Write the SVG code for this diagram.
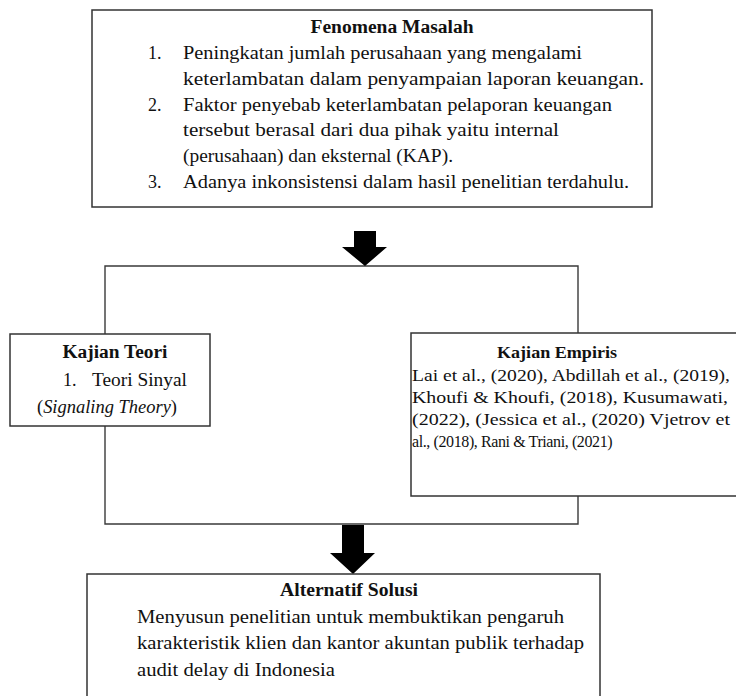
<svg xmlns="http://www.w3.org/2000/svg" width="736" height="696" viewBox="0 0 736 696">
<style>
.box{fill:#fff;stroke:#333;stroke-width:1.5}
.ln{fill:none;stroke:#3a3a3a;stroke-width:1.4}
.arr{fill:#000}
text{font-family:"Liberation Serif","DejaVu Serif",serif;fill:#111}
.b{font-weight:bold}
.t18{font-size:18px}
.t17{font-size:18px}
.t16{font-size:16.5px}
.t14{font-size:17px}
</style>
<rect x="0" y="0" width="736" height="696" fill="#fff"/>
<g id="connectors">
<polyline class="ln" points="105,334 105,266 578,266 578,333"/>
<polyline class="ln" points="105,426 105,524 578,524 578,496"/>
<polygon class="arr" points="354,231 376,231 376,247 387,247 365,266 342,247 354,247"/>
<polygon class="arr" points="342,525 364,525 364,553 375,553 353,574 330,553 342,553"/>
</g>
<g id="fenomena">
<rect class="box" x="92" y="10" width="560" height="197"/>
<text class="t18 b" x="392" y="33" text-anchor="middle" textLength="163" lengthAdjust="spacingAndGlyphs">Fenomena Masalah</text>
<text class="t18" x="148" y="59">1.</text>
<text class="t18" x="183" y="59" textLength="399" lengthAdjust="spacingAndGlyphs">Peningkatan jumlah perusahaan yang mengalami</text>
<text class="t18" x="183" y="85" textLength="461" lengthAdjust="spacingAndGlyphs">keterlambatan dalam penyampaian laporan keuangan.</text>
<text class="t18" x="148" y="111">2.</text>
<text class="t18" x="183" y="111" textLength="429" lengthAdjust="spacingAndGlyphs">Faktor penyebab keterlambatan pelaporan keuangan</text>
<text class="t18" x="183" y="136" textLength="376" lengthAdjust="spacingAndGlyphs">tersebut berasal dari dua pihak yaitu internal</text>
<text class="t18" x="183" y="162" textLength="270" lengthAdjust="spacingAndGlyphs">(perusahaan) dan eksternal (KAP).</text>
<text class="t18" x="148" y="188">3.</text>
<text class="t18" x="183" y="188" textLength="446" lengthAdjust="spacingAndGlyphs">Adanya inkonsistensi dalam hasil penelitian terdahulu.</text>
</g>
<g id="kajian-teori">
<rect class="box" x="10" y="334" width="200" height="92"/>
<text class="t17 b" x="115" y="358" text-anchor="middle" textLength="105" lengthAdjust="spacingAndGlyphs">Kajian Teori</text>
<text class="t17" x="63" y="386">1.</text>
<text class="t17" x="92" y="386" textLength="95" lengthAdjust="spacingAndGlyphs">Teori Sinyal</text>
<text class="t17" x="37" y="413" textLength="140" lengthAdjust="spacingAndGlyphs">(<tspan font-style="italic">Signaling Theory</tspan>)</text>
</g>
<g id="kajian-empiris">
<rect class="box" x="411" y="333" width="340" height="163"/>
<text class="t16 b" x="557" y="358" text-anchor="middle" textLength="120" lengthAdjust="spacingAndGlyphs">Kajian Empiris</text>
<text class="t14" x="412" y="381" textLength="318" lengthAdjust="spacingAndGlyphs">Lai et al., (2020), Abdillah et al., (2019),</text>
<text class="t14" x="412" y="403" textLength="316" lengthAdjust="spacingAndGlyphs">Khoufi &amp; Khoufi, (2018), Kusumawati,</text>
<text class="t14" x="412" y="425" textLength="318" lengthAdjust="spacingAndGlyphs">(2022), (Jessica et al., (2020) Vjetrov et</text>
<text x="412" y="447" font-size="16" letter-spacing="-0.4">al., (2018), Rani &amp; Triani, (2021)</text>
</g>
<g id="alternatif-solusi">
<rect class="box" x="87" y="574" width="513" height="130"/>
<text class="t18 b" x="349" y="596" text-anchor="middle" textLength="138" lengthAdjust="spacingAndGlyphs">Alternatif Solusi</text>
<text class="t18" x="137" y="623" textLength="427" lengthAdjust="spacingAndGlyphs">Menyusun penelitian untuk membuktikan pengaruh</text>
<text class="t18" x="137" y="649" textLength="447" lengthAdjust="spacingAndGlyphs">karakteristik klien dan kantor akuntan publik terhadap</text>
<text class="t18" x="137" y="676" textLength="198" lengthAdjust="spacingAndGlyphs">audit delay di Indonesia</text>
</g>
</svg>
